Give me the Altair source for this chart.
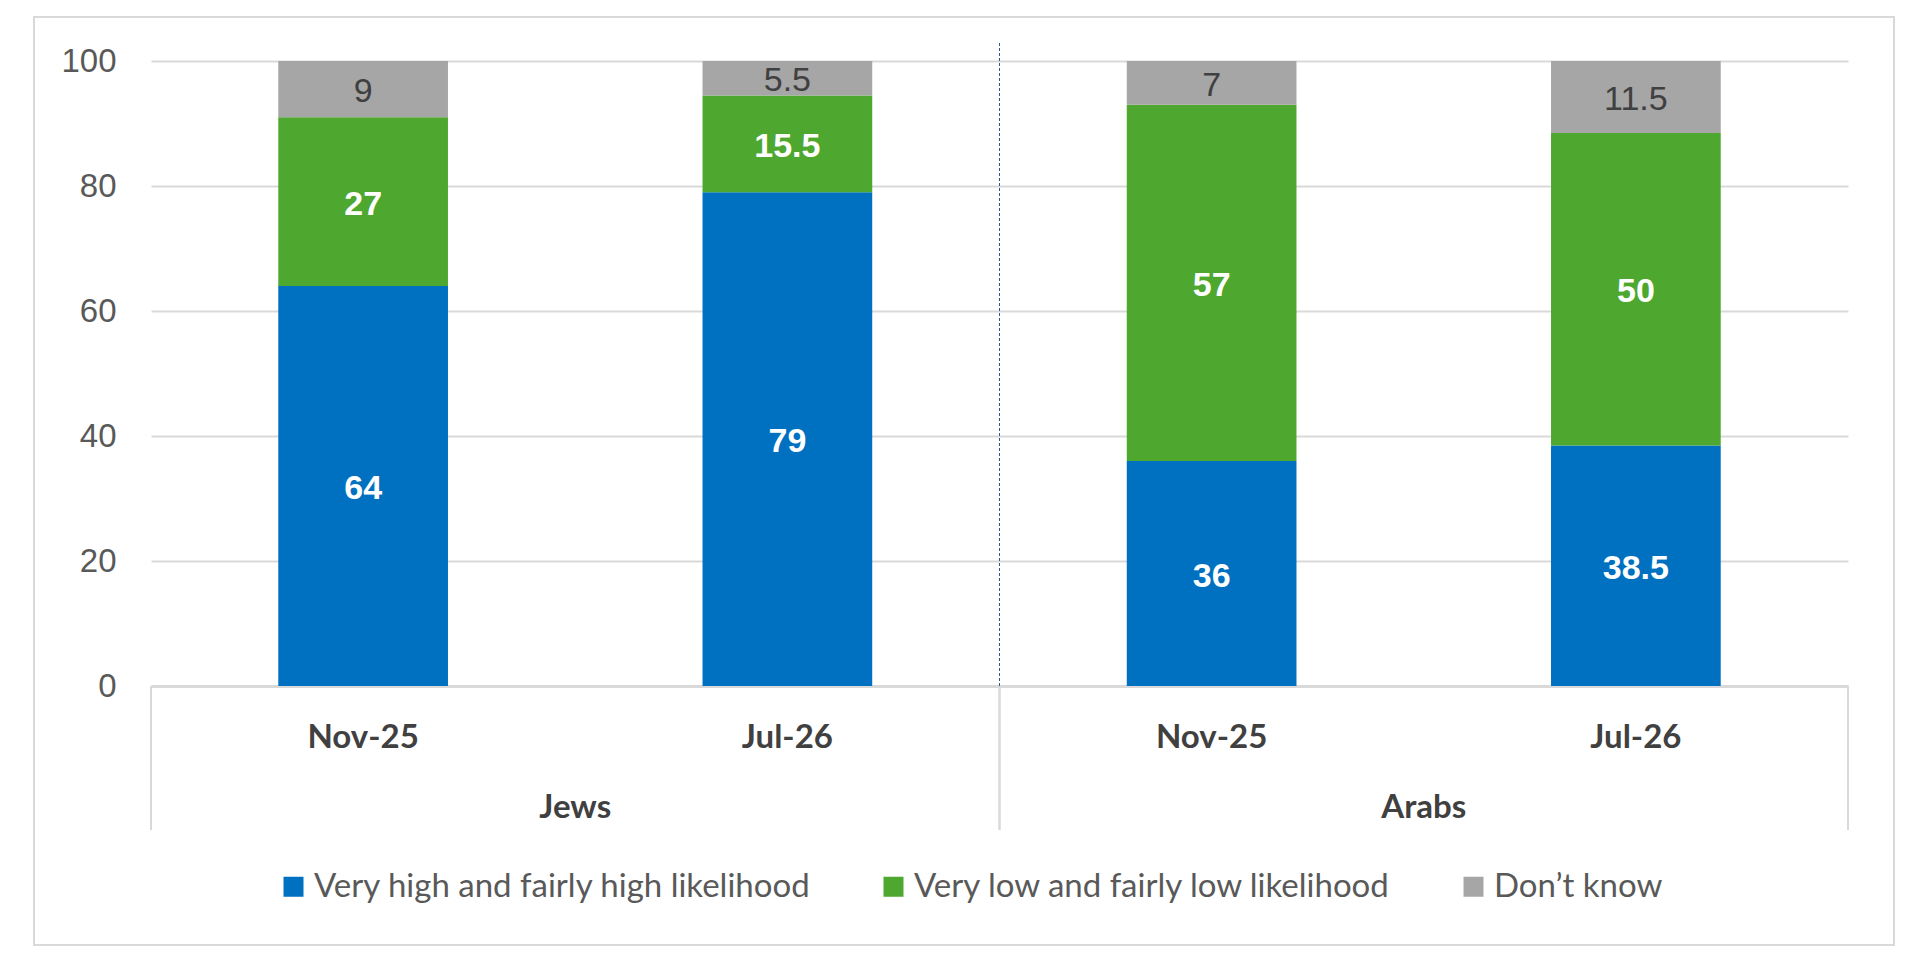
import altair as alt
import pandas as pd

# ---- data ----
groups = ["Jews", "Jews", "Arabs", "Arabs"]
periods = ["Nov-25", "Jul-26", "Nov-25", "Jul-26"]
high = [64, 79, 36, 38.5]
low = [27, 15.5, 57, 50]
dont_know = [9, 5.5, 7, 11.5]
series_names = [
    "Very high and fairly high likelihood",
    "Very low and fairly low likelihood",
    "Don\u2019t know",
]
series_colors = ["#0070C0", "#4EA72E", "#A6A6A6"]
group_names = ["Jews", "Arabs"]
y_ticks = [0, 20, 40, 60, 80, 100]

keys = [f"{g}|{p}" for g, p in zip(groups, periods)]
rows = []
for i, k in enumerate(keys):
    for j, vals in enumerate([high, low, dont_know]):
        rows.append({
            "key": k,
            "group": groups[i],
            "period": periods[i],
            "series": series_names[j],
            "order": j,
            "value": vals[i],
            "label": f"{vals[i]:g}",
        })
df = pd.DataFrame(rows)
gdf = pd.DataFrame({"group": group_names})

W, H = 1697, 625

base = (
    alt.Chart(df)
    .transform_stack(stack="value", groupby=["key"], sort=[alt.SortField("order")], as_=["v0", "v1"])
    .transform_calculate(mid="(datum.v0 + datum.v1) / 2")
)

x_enc = alt.X(
    "key:N",
    sort=keys,
    title=None,
    scale=alt.Scale(paddingInner=0.6, paddingOuter=0.3),
    axis=alt.Axis(
        labelExpr="split(datum.label, '|')[1]",
        labelFont="Lato",
        labelFontWeight="bold",
        labelFontSize=33,
        labelColor="#404040",
        labelPadding=35,
        labelAngle=0,
        ticks=False,
        domainColor="#D9D9D9",
        domainWidth=3,
        grid=False,
    ),
)
y_scale = alt.Scale(domain=[0, 100], nice=False)
y_axis = alt.Axis(
    values=y_ticks,
    labelFont="Liberation Sans",
    labelFontSize=33,
    labelColor="#595959",
    labelPadding=35,
    ticks=False,
    domain=False,
    gridColor="#D9D9D9",
    gridWidth=2,
)

bars = base.mark_bar().encode(
    x=x_enc,
    y=alt.Y("v0:Q", scale=y_scale, axis=y_axis, title=None),
    y2="v1:Q",
    color=alt.Color(
        "series:N",
        scale=alt.Scale(domain=series_names, range=series_colors),
        title=None,
        legend=alt.Legend(
            orient="none",
            legendX=126,
            legendY=809,
            direction="horizontal",
            symbolType="square",
            symbolSize=400,
            symbolStrokeWidth=0,
            labelFont="Lato",
            labelFontSize=33,
            labelColor="#595959",
            labelOffset=4,
            columnPadding=65,
            labelLimit=1000,
            padding=0,
        ),
    ),
    order="order:Q",
)

labels_white = base.transform_filter("datum.order < 2").mark_text(
    font="Liberation Sans", fontWeight="bold", fontSize=34, color="white", dy=3
).encode(x=x_enc, y=alt.Y("mid:Q", scale=y_scale, title=None), text="label:N")

labels_gray = base.transform_filter("datum.order == 2").mark_text(
    font="Liberation Sans", fontSize=34, color="#404040", dy=3
).encode(x=x_enc, y=alt.Y("mid:Q", scale=y_scale, title=None), text="label:N")

inner = alt.layer(bars, labels_white, labels_gray)

g_scale = alt.Scale(paddingInner=0, paddingOuter=0)

group_text = alt.Chart(gdf).mark_text(
    font="Lato", fontWeight="bold", fontSize=33, color="#404040"
).encode(
    x=alt.X("group:N", sort=group_names, scale=g_scale, axis=None),
    y=alt.value(747),
    text="group:N",
)
sep_left = alt.Chart(gdf).mark_rule(color="#D9D9D9", strokeWidth=2).encode(
    x=alt.X("group:N", sort=group_names, scale=g_scale, axis=None, bandPosition=0),
    y=alt.value(H),
    y2=alt.value(769),
)
sep_right = alt.Chart(gdf).mark_rule(color="#D9D9D9", strokeWidth=2).encode(
    x=alt.X("group:N", sort=group_names, scale=g_scale, axis=None, bandPosition=1),
    y=alt.value(H),
    y2=alt.value(769),
)
dashed = alt.Chart(gdf).transform_filter(
    alt.datum.group == group_names[1]
).mark_rule(color="#2F5597", strokeWidth=1, strokeDash=[3, 2]).encode(
    x=alt.X("group:N", sort=group_names, scale=g_scale, axis=None, bandPosition=0),
    y=alt.value(-18),
    y2=alt.value(H),
)
group_layer = alt.layer(sep_left, sep_right, dashed, group_text)

border = alt.Chart(pd.DataFrame({"a": [0]})).mark_rect(
    fill="transparent", stroke="#D9D9D9", strokeWidth=2
).encode(
    x=alt.value(-117), x2=alt.value(1743), y=alt.value(-44), y2=alt.value(884)
)

chart = (
    alt.layer(inner, group_layer, border)
    .resolve_scale(x="independent")
    .properties(
        width=W,
        height=H,
        padding={"left": 25, "top": 8, "right": 10, "bottom": 8},
        background="white",
    )
    .configure_view(strokeWidth=0)
)

chart.save("out.html", embed_options={"renderer": "svg", "actions": False})
